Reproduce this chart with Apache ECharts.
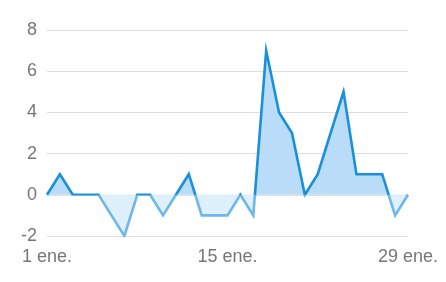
<!DOCTYPE html>
<html>
<head>
<meta charset="utf-8">
<script src="https://cdn.jsdelivr.net/npm/echarts@6/dist/echarts.min.js"></script>
<style>
  html, body { margin: 0; padding: 0; background: #fff; }
  #chart { width: 446px; height: 282px; }
</style>
</head>
<body>
<div id="chart"></div>
<script>
const days = [];
for (let d = 1; d <= 29; d++) days.push(d + " ene.");
const values = [0, 1, 0, 0, 0, -1, -2, 0, 0, -1, 0, 1, -1, -1, -1, 0, -1, 7, 4, 3, 0, 1, 3, 5, 1, 1, 1, -1, 0];
const yTicks = [-2, 0, 2, 4, 6, 8];
const labelDays = [0, 14, 28];

const chart = echarts.init(document.getElementById("chart"));
const font = "'Liberation Sans', Arial, sans-serif";

chart.setOption({
  animation: false,
  grid: { left: 47, right: 38, top: 30, bottom: 46 },
  xAxis: {
    type: "category",
    data: days,
    boundaryGap: false,
    axisLine: { show: false },
    axisTick: { show: false },
    axisLabel: {
      interval: (i) => labelDays.includes(i),
      color: "#777",
      fontSize: 18,
      fontFamily: font,
      margin: 12,
    },
    splitLine: { show: false },
  },
  yAxis: {
    type: "value",
    min: yTicks[0],
    max: yTicks[yTicks.length - 1],
    interval: 2,
    axisLine: { show: false },
    axisTick: { show: false },
    axisLabel: { color: "#777", fontSize: 18, fontFamily: font, margin: 10 },
    splitLine: { lineStyle: { color: "#dedede", width: 1 } },
  },
  visualMap: [
    {
      show: false,
      type: "piecewise",
      seriesIndex: 0,
      dimension: 1,
      pieces: [
        { gte: 0, lte: 100, color: "#b9dcf8" },
        { gte: -100, lt: 0, color: "#ddf0fc" },
      ],
    },
    {
      show: false,
      type: "piecewise",
      seriesIndex: 1,
      dimension: 1,
      pieces: [
        { gte: 0, lte: 100, color: "#1a8fdb" },
        { gte: -100, lt: 0, color: "#6db7e9" },
      ],
    },
  ],
  series: [
    {
      name: "area",
      type: "line",
      data: values,
      symbol: "none",
      lineStyle: { width: 0 },
      areaStyle: { opacity: 1 },
    },
    {
      name: "line",
      type: "line",
      data: values,
      symbol: "none",
      lineStyle: { width: 2.6, join: "miter", miterLimit: 10 },
    },
  ],
});
</script>
</body>
</html>
